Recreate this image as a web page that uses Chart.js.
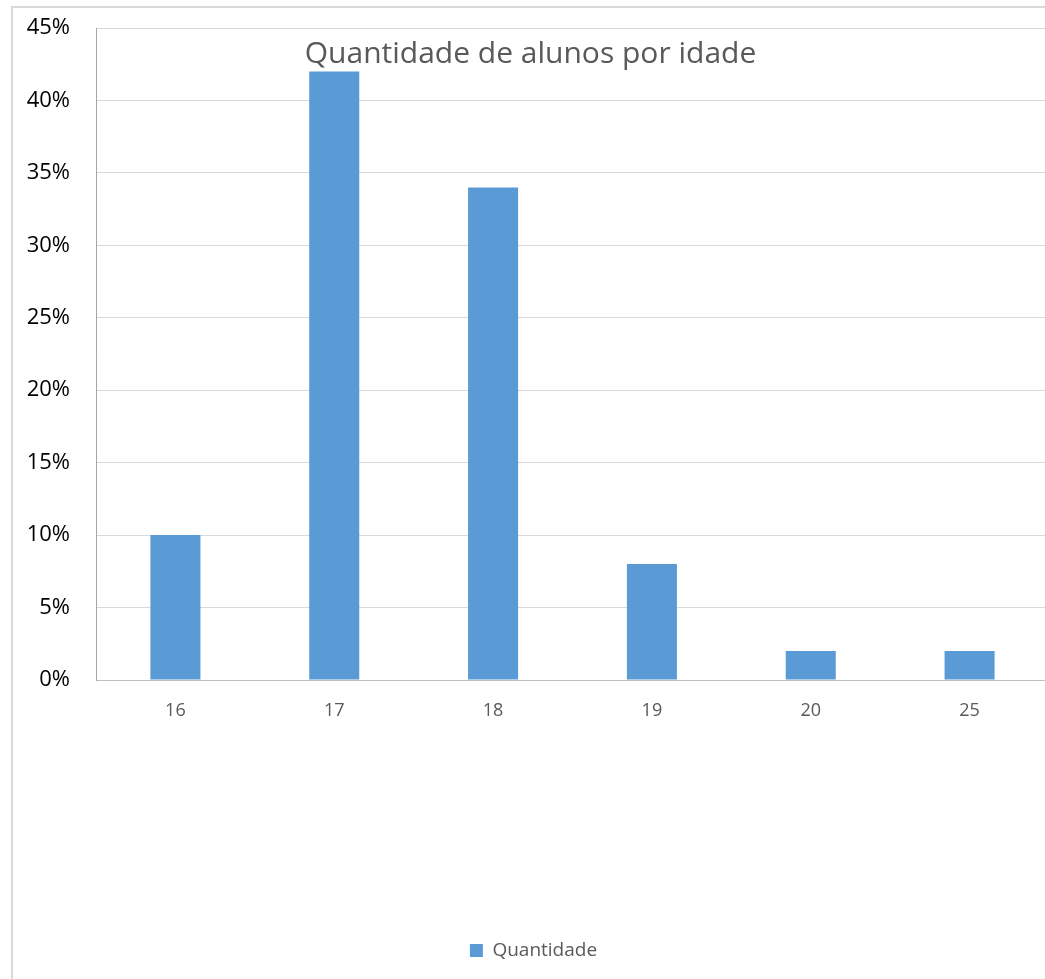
<!DOCTYPE html>
<html>
<head>
<meta charset="utf-8">
<script src="https://cdn.jsdelivr.net/npm/chart.js@4.4.1/dist/chart.umd.min.js"></script>
<style>
  html, body { margin: 0; padding: 0; background: #fff; overflow: hidden; width: 1045px; height: 979px; }
  #frame { position: absolute; left: 11px; top: 6px; width: 1100px; height: 1100px; border: 2px solid #d9d9d9; box-sizing: border-box; }
  #wrap { position: absolute; left: 0; top: 0; width: 1049px; height: 979px; }
</style>
</head>
<body>
<div id="frame"></div>
<div id="wrap"><canvas id="c" width="1049" height="979"></canvas></div>
<script>
const categories = ['16', '17', '18', '19', '20', '25'];
const seriesName = 'Quantidade';
const values = [10, 42, 34, 8, 2, 2];
const yTicks = [0, 5, 10, 15, 20, 25, 30, 35, 40, 45];
const chartTitle = 'Quantidade de alunos por idade';

const FONT = "'Open Sans', 'Noto Sans', sans-serif";

const titleInside = {
  id: 'titleInside',
  afterDraw(chart) {
    const ctx = chart.ctx;
    ctx.save();
    ctx.font = "30px " + FONT;
    ctx.fillStyle = '#595959';
    ctx.textAlign = 'center';
    ctx.textBaseline = 'middle';
    ctx.fillText(chartTitle, chart.width / 2 + 6, chart.chartArea.top + 26);
    ctx.restore();
  }
};

new Chart(document.getElementById('c'), {
  type: 'bar',
  data: {
    labels: categories,
    datasets: [{
      label: seriesName,
      data: values,
      backgroundColor: '#5B9BD5',
      borderWidth: 0,
      categoryPercentage: 1,
      barPercentage: 0.315
    }]
  },
  options: {
    responsive: false,
    animation: false,
    layout: { padding: { top: 28, right: 0, bottom: 9, left: 18 } },
    plugins: {
      legend: {
        position: 'bottom',
        labels: {
          font: { family: FONT, size: 19 },
          color: '#595959',
          boxWidth: 13,
          boxHeight: 13,
          padding: 10
        }
      },
      tooltip: { enabled: false },
      title: { display: false }
    },
    scales: {
      x: {
        offset: true,
        grid: { display: false, drawTicks: false },
        border: { display: true, color: '#bfbfbf', width: 1 },
        ticks: { font: { family: FONT, size: 18 }, color: '#595959', padding: 20 },
        afterFit(scale) { scale.height = 251; }
      },
      y: {
        min: 0,
        max: 45,
        afterBuildTicks(scale) { scale.ticks = yTicks.map(v => ({ value: v })); },
        grid: { color: '#d9d9d9', lineWidth: 1, drawTicks: false },
        border: { display: true, color: '#a6a6a6', width: 1 },
        ticks: {
          font: { family: FONT, size: 22 },
          color: '#000',
          padding: 26,
          callback: v => v + '%'
        },
        afterFit(scale) {
          scale.width = 78;
          scale.paddingTop = 0;
          scale.paddingBottom = 0;
        }
      }
    }
  },
  plugins: [titleInside]
});
</script>
</body>
</html>
